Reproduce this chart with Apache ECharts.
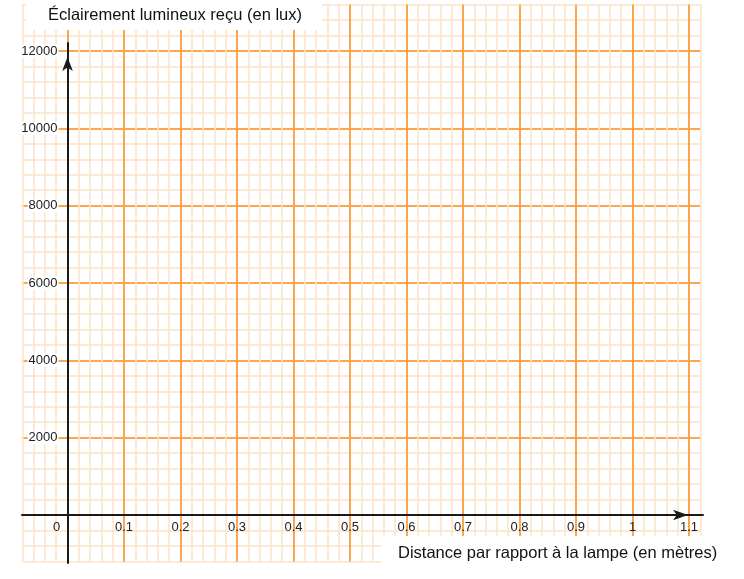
<!DOCTYPE html>
<html>
<head>
<meta charset="utf-8">
<script src="https://cdn.jsdelivr.net/npm/echarts@6/dist/echarts.min.js"></script>
<style>
html,body{margin:0;padding:0;background:#ffffff;}
#chart{width:744px;height:579px;}
</style>
</head>
<body>
<div id="chart"></div>
<script>
// ---- data / text ----
const yTitle = 'Éclairement lumineux reçu (en lux)';
const xTitle = 'Distance par rapport à la lampe (en mètres)';
const xTickLabels = [0, 0.1, 0.2, 0.3, 0.4, 0.5, 0.6, 0.7, 0.8, 0.9, 1, 1.1];
const yTickLabels = [2000, 4000, 6000, 8000, 10000, 12000];
const xRange = [-0.08, 1.12];
const xMinorStep = 0.02;
const xMajorStep = 0.1;
const yRange = [-1200, 13200];
const yMinorStep = 400;
const yMajorStep = 2000;

// ---- styles ----
const MAJOR = '#fb8f22';
const MINOR = '#fde3c9';
const AXIS = '#1a1a1a';
const FONT = 'Liberation Sans, Arial, Helvetica, sans-serif';

function near(a, b) { return Math.abs(a - b) < 1e-7; }
function isMultiple(v, step) { const q = v / step; return Math.abs(q - Math.round(q)) < 1e-6; }
// colour per split line, counted from min by the minor step
function majorColours(range, step, majorStep) {
  const out = [];
  const n = Math.round((range[1] - range[0]) / step);
  for (let i = 0; i <= n; i++) {
    const v = range[0] + i * step;
    out.push(isMultiple(v, majorStep) ? MAJOR : 'rgba(0,0,0,0)');
  }
  return out;
}

const chart = echarts.init(document.getElementById('chart'), null, {renderer: 'canvas'});

const hidden = {show: false};
const option = {
  animation: false,
  backgroundColor: '#ffffff',
  title: [
    {
      text: yTitle, left: 26, top: 0,
      backgroundColor: '#ffffff',
      padding: [5, 20, 5, 22],
      textStyle: {fontFamily: FONT, fontSize: 16.5, fontWeight: 'normal', color: '#111', lineHeight: 20}
    },
    {
      text: xTitle, left: 381, top: 536,
      backgroundColor: '#ffffff',
      padding: [7, 40, 20, 17],
      textStyle: {fontFamily: FONT, fontSize: 16.5, fontWeight: 'normal', color: '#111', lineHeight: 20}
    }
  ],
  grid: [
    {left: 22.3, top: 4.6, width: 678, height: 556.8, show: false},
    {left: 22, top: 43, width: 681, height: 520, show: false}
  ],
  xAxis: [
    { // minor grid lines
      type: 'value', gridIndex: 0, min: xRange[0], max: xRange[1], interval: xMinorStep,
      axisLine: {show: false, onZero: false}, axisTick: hidden, axisLabel: hidden,
      splitLine: {show: true, lineStyle: {color: MINOR, width: 1.5}}
    },
    { // major grid lines + labels
      type: 'value', gridIndex: 0, position: 'bottom', offset: -46.4,
      min: xRange[0], max: xRange[1], interval: xMinorStep,
      axisLine: {show: false, onZero: false}, axisTick: hidden,
      axisLabel: {
        show: true, margin: 6, fontFamily: FONT, fontSize: 13, color: '#222',
        formatter: function (v) {
          for (const t of xTickLabels) {
            if (near(v, t)) return t === 0 ? '{z|0}' : String(t);
          }
          return '';
        },
        rich: {z: {fontFamily: FONT, fontSize: 13, color: '#222', padding: [0, 22, 0, 0]}}
      },
      splitLine: {show: true, lineStyle: {color: majorColours(xRange, xMinorStep, xMajorStep), width: 1.5}}
    },
    { // drawn axis with arrow
      type: 'value', gridIndex: 1, min: -45.5, max: 635.5,
      axisLine: {show: true, onZero: true, symbol: ['none', 'arrow'], symbolSize: [8, 15], symbolOffset: [0, -15],
        lineStyle: {color: AXIS, width: 2}},
      axisTick: hidden, axisLabel: hidden, splitLine: hidden
    }
  ],
  yAxis: [
    {
      type: 'value', gridIndex: 0, min: yRange[0], max: yRange[1], interval: yMinorStep,
      axisLine: {show: false, onZero: false}, axisTick: hidden, axisLabel: hidden,
      splitLine: {show: true, lineStyle: {color: MINOR, width: 1.5}}
    },
    {
      type: 'value', gridIndex: 0, position: 'left', offset: -45.2,
      min: yRange[0], max: yRange[1], interval: yMinorStep,
      axisLine: {show: false, onZero: false}, axisTick: hidden,
      axisLabel: {
        show: true, margin: 9, fontFamily: FONT, fontSize: 13, color: '#222',
        backgroundColor: '#ffffff', padding: [0, 1, 0, 1],
        formatter: function (v) {
          for (const t of yTickLabels) { if (near(v, t)) return String(t); }
          return '';
        }
      },
      splitLine: {show: true, lineStyle: {color: majorColours(yRange, yMinorStep, yMajorStep), width: 1.5}}
    },
    {
      type: 'value', gridIndex: 1, min: -48, max: 472,
      axisLine: {show: true, onZero: true, symbol: ['none', 'arrow'], symbolSize: [8, 14], symbolOffset: [0, -14],
        lineStyle: {color: AXIS, width: 2}},
      axisTick: hidden, axisLabel: hidden, splitLine: hidden
    }
  ],
  series: [
    {type: 'line', xAxisIndex: 0, yAxisIndex: 0, data: [], silent: true}
  ]
};
chart.setOption(option);
</script>
</body>
</html>
